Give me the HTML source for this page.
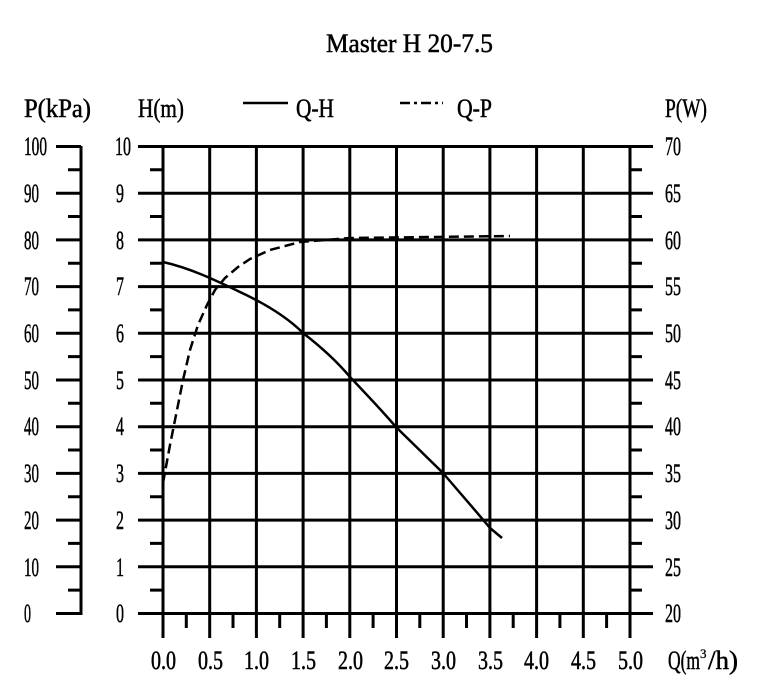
<!DOCTYPE html>
<html><head><meta charset="utf-8"><style>
html,body{margin:0;padding:0;background:#fff;width:759px;height:688px;overflow:hidden}
text{font-family:"Liberation Serif",serif;font-size:26px;fill:#000;stroke:#000;stroke-width:0.5}
</style></head><body>
<svg width="759" height="688" viewBox="0 0 759 688" xmlns="http://www.w3.org/2000/svg">
<g stroke="#000" stroke-width="3" fill="none">
<path d="M163 146V638M209.7 146V638M256.4 146V638M303.1 146V638M349.8 146V638M396.5 146V638M443.2 146V638M489.9 146V638M536.6 146V638M583.3 146V638M630 146V638"/>
<path d="M138 146.5H653M138 193.2H653M138 239.9H653M138 286.6H653M138 333.3H653M138 380H653M138 426.7H653M138 473.4H653M138 520.1H653M138 566.8H653M138 613.5H653"/>
<path d="M150 169.8H163M150 216.5H163M150 263.2H163M150 309.9H163M150 356.6H163M150 403.3H163M150 450H163M150 496.7H163M150 543.4H163M150 590.1H163"/>
<path d="M630 169.8H642M630 216.5H642M630 263.2H642M630 309.9H642M630 356.6H642M630 403.3H642M630 450H642M630 496.7H642M630 543.4H642M630 590.1H642"/>
<path d="M186.3 613V628M233 613V628M279.7 613V628M326.4 613V628M373.1 613V628M419.8 613V628M466.5 613V628M513.2 613V628M559.9 613V628M606.6 613V628"/>
<path d="M81 146V615"/>
<path d="M56 146.5H81M56 193.2H81M56 239.9H81M56 286.6H81M56 333.3H81M56 380H81M56 426.7H81M56 473.4H81M56 520.1H81M56 566.8H81M56 613.5H81"/>
<path d="M68 169.8H81M68 216.5H81M68 263.2H81M68 309.9H81M68 356.6H81M68 403.3H81M68 450H81M68 496.7H81M68 543.4H81M68 590.1H81"/>
</g>
<path d="M163 262 C190 268 215 280 240 292 C270 306 290 320 303 333 C325 350 340 365 350 377 C370 398 385 414 396 427 L443 473 C460 493 475 510 490 528 L502 538" stroke="#000" stroke-width="2.5" fill="none"/>
<path d="M163 483 L170 445 L177 410 L183 380 L190 350 L198 325 L207 305 L215 290 L225 278 L238 267 L250 259 L270 250 L300 242 L350 238 L510 236" stroke="#000" stroke-width="2.5" fill="none" stroke-dasharray="10,5" stroke-linejoin="round"/>
<path d="M243 103H288" stroke="#000" stroke-width="2.5"/>
<path d="M400 103H443" stroke="#000" stroke-width="2.5" stroke-dasharray="10,4,3,4"/>
<text x="326" y="52" textLength="167" lengthAdjust="spacingAndGlyphs">Master H 20-7.5</text>
<text x="24" y="117" textLength="67" lengthAdjust="spacingAndGlyphs">P(kPa)</text>
<text x="138" y="117" textLength="46" lengthAdjust="spacingAndGlyphs">H(m)</text>
<text x="296" y="117" textLength="38" lengthAdjust="spacingAndGlyphs">Q-H</text>
<text x="457" y="117" textLength="35" lengthAdjust="spacingAndGlyphs">Q-P</text>
<text x="665" y="117" textLength="42" lengthAdjust="spacingAndGlyphs">P(W)</text>
<text x="24" y="155" textLength="23" lengthAdjust="spacingAndGlyphs">100</text>
<text x="24" y="202" textLength="15" lengthAdjust="spacingAndGlyphs">90</text>
<text x="24" y="249" textLength="15" lengthAdjust="spacingAndGlyphs">80</text>
<text x="24" y="295" textLength="15" lengthAdjust="spacingAndGlyphs">70</text>
<text x="24" y="342" textLength="15" lengthAdjust="spacingAndGlyphs">60</text>
<text x="24" y="389" textLength="15" lengthAdjust="spacingAndGlyphs">50</text>
<text x="24" y="435" textLength="15" lengthAdjust="spacingAndGlyphs">40</text>
<text x="24" y="482" textLength="15" lengthAdjust="spacingAndGlyphs">30</text>
<text x="24" y="529" textLength="15" lengthAdjust="spacingAndGlyphs">20</text>
<text x="24" y="576" textLength="15" lengthAdjust="spacingAndGlyphs">10</text>
<text x="24" y="622" textLength="7" lengthAdjust="spacingAndGlyphs">0</text>
<text x="115" y="155" textLength="16" lengthAdjust="spacingAndGlyphs">10</text>
<text x="116" y="202" textLength="8" lengthAdjust="spacingAndGlyphs">9</text>
<text x="116" y="249" textLength="8" lengthAdjust="spacingAndGlyphs">8</text>
<text x="116" y="295" textLength="8" lengthAdjust="spacingAndGlyphs">7</text>
<text x="116" y="342" textLength="8" lengthAdjust="spacingAndGlyphs">6</text>
<text x="116" y="389" textLength="8" lengthAdjust="spacingAndGlyphs">5</text>
<text x="116" y="435" textLength="8" lengthAdjust="spacingAndGlyphs">4</text>
<text x="116" y="482" textLength="8" lengthAdjust="spacingAndGlyphs">3</text>
<text x="116" y="529" textLength="8" lengthAdjust="spacingAndGlyphs">2</text>
<text x="116" y="576" textLength="8" lengthAdjust="spacingAndGlyphs">1</text>
<text x="116" y="622" textLength="8" lengthAdjust="spacingAndGlyphs">0</text>
<text x="665" y="155" textLength="16" lengthAdjust="spacingAndGlyphs">70</text>
<text x="665" y="202" textLength="16" lengthAdjust="spacingAndGlyphs">65</text>
<text x="665" y="249" textLength="16" lengthAdjust="spacingAndGlyphs">60</text>
<text x="665" y="295" textLength="16" lengthAdjust="spacingAndGlyphs">55</text>
<text x="665" y="342" textLength="16" lengthAdjust="spacingAndGlyphs">50</text>
<text x="665" y="389" textLength="16" lengthAdjust="spacingAndGlyphs">45</text>
<text x="665" y="435" textLength="16" lengthAdjust="spacingAndGlyphs">40</text>
<text x="665" y="482" textLength="16" lengthAdjust="spacingAndGlyphs">35</text>
<text x="665" y="529" textLength="16" lengthAdjust="spacingAndGlyphs">30</text>
<text x="665" y="576" textLength="16" lengthAdjust="spacingAndGlyphs">25</text>
<text x="665" y="622" textLength="16" lengthAdjust="spacingAndGlyphs">20</text>
<text x="151" y="669" textLength="25" lengthAdjust="spacingAndGlyphs">0.0</text>
<text x="198" y="669" textLength="25" lengthAdjust="spacingAndGlyphs">0.5</text>
<text x="244" y="669" textLength="25" lengthAdjust="spacingAndGlyphs">1.0</text>
<text x="291" y="669" textLength="25" lengthAdjust="spacingAndGlyphs">1.5</text>
<text x="338" y="669" textLength="25" lengthAdjust="spacingAndGlyphs">2.0</text>
<text x="384" y="669" textLength="25" lengthAdjust="spacingAndGlyphs">2.5</text>
<text x="431" y="669" textLength="25" lengthAdjust="spacingAndGlyphs">3.0</text>
<text x="478" y="669" textLength="25" lengthAdjust="spacingAndGlyphs">3.5</text>
<text x="524" y="669" textLength="25" lengthAdjust="spacingAndGlyphs">4.0</text>
<text x="571" y="669" textLength="25" lengthAdjust="spacingAndGlyphs">4.5</text>
<text x="618" y="669" textLength="25" lengthAdjust="spacingAndGlyphs">5.0</text>
<text x="668" y="669" textLength="32" lengthAdjust="spacingAndGlyphs">Q(m</text>
<text x="700" y="658" style="font-size:13px;stroke-width:0.3">3</text>
<text x="708" y="669" textLength="30" lengthAdjust="spacingAndGlyphs">/h)</text>
</svg>
</body></html>
